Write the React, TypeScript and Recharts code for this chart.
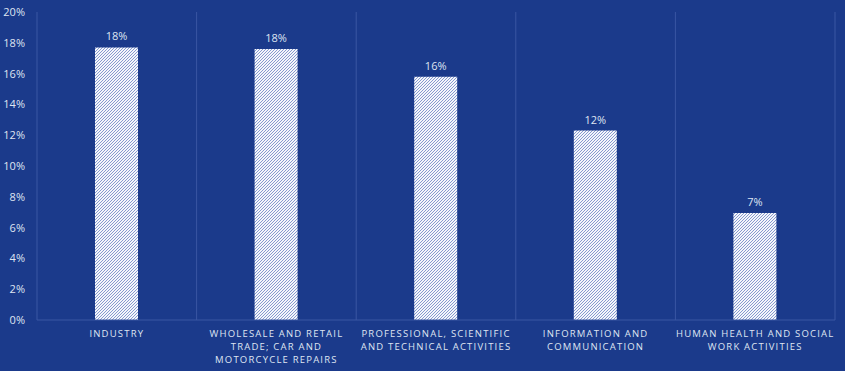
import React from 'react';
import { BarChart, Bar, XAxis, YAxis, CartesianGrid, LabelList } from 'recharts';

const sectors = [
  'INDUSTRY',
  'WHOLESALE AND RETAIL TRADE; CAR AND MOTORCYCLE REPAIRS',
  'PROFESSIONAL, SCIENTIFIC AND TECHNICAL ACTIVITIES',
  'INFORMATION AND COMMUNICATION',
  'HUMAN HEALTH AND SOCIAL WORK ACTIVITIES',
];
const shares = [0.177, 0.176, 0.158, 0.123, 0.0695];
const yTicks = [0, 0.02, 0.04, 0.06, 0.08, 0.1, 0.12, 0.14, 0.16, 0.18, 0.2];

const BG = '#1b3a8b';
const GRID = '#3a56a3';
const TEXT = '#dfe5f2';

const data = sectors.map((name, i) => ({ name, value: shares[i] }));

const pct = (v: number) => `${Math.round(v * 100)}%`;

// greedy word wrap for the category labels
const wrap = (text: string, max = 24) => {
  const lines: string[] = [];
  let cur = '';
  text.split(' ').forEach(w => {
    const next = cur ? cur + ' ' + w : w;
    if (next.length > max && cur) {
      lines.push(cur);
      cur = w;
    } else cur = next;
  });
  if (cur) lines.push(cur);
  return lines;
};

const CategoryTick = (props: any) => {
  const { x, y, payload } = props;
  const lines = wrap(payload.value);
  return (
    <g transform={`translate(${x},${y})`}>
      {lines.map((l, i) => (
        <text
          key={i}
          x={0}
          y={i * 13}
          dy={9}
          textAnchor="middle"
          fill={TEXT}
          fontSize={9.5}
          letterSpacing={1.2}
          fontFamily="'Open Sans', sans-serif"
        >
          {l}
        </text>
      ))}
    </g>
  );
};

export default function App() {
  const n = sectors.length;
  return (
    <div style={{ position: 'fixed', left: 0, top: 0, width: 845, height: 371, background: BG }}>
      <BarChart
        width={845}
        height={371}
        data={data}
        margin={{ top: 12, right: 10, bottom: 0, left: 0 }}
      >
        <defs>
          <pattern id="hatch" width="3" height="3" patternUnits="userSpaceOnUse">
            <rect width="3" height="3" fill="#f4f6fb" />
            <path d="M-1,1 l2,-2 M0,3 l3,-3 M2,4 l2,-2" stroke="#6a82c4" strokeWidth={0.8} />
          </pattern>
        </defs>
        <CartesianGrid
          horizontal={false}
          stroke={GRID}
          verticalCoordinatesGenerator={({ offset }: any) =>
            Array.from({ length: n + 1 }, (_, i) => offset.left + (i * offset.width) / n)
          }
        />
        <XAxis
          dataKey="name"
          interval={0}
          tickLine={false}
          axisLine={{ stroke: GRID }}
          height={51}
          tick={<CategoryTick />}
        />
        <YAxis
          width={37}
          domain={[0, 0.2]}
          ticks={yTicks}
          tickFormatter={pct}
          axisLine={false}
          tickLine={false}
          tick={{ fill: TEXT, fontSize: 11, fontFamily: "'Open Sans', sans-serif" }}
          tickMargin={6}
        />
        <Bar dataKey="value" fill="url(#hatch)" barSize={43} isAnimationActive={false}>
          <LabelList
            dataKey="value"
            position="top"
            offset={7}
            formatter={(v: any) => pct(Number(v))}
            fill={TEXT}
            fontSize={11}
            fontFamily="'Open Sans', sans-serif"
          />
        </Bar>
      </BarChart>
    </div>
  );
}
